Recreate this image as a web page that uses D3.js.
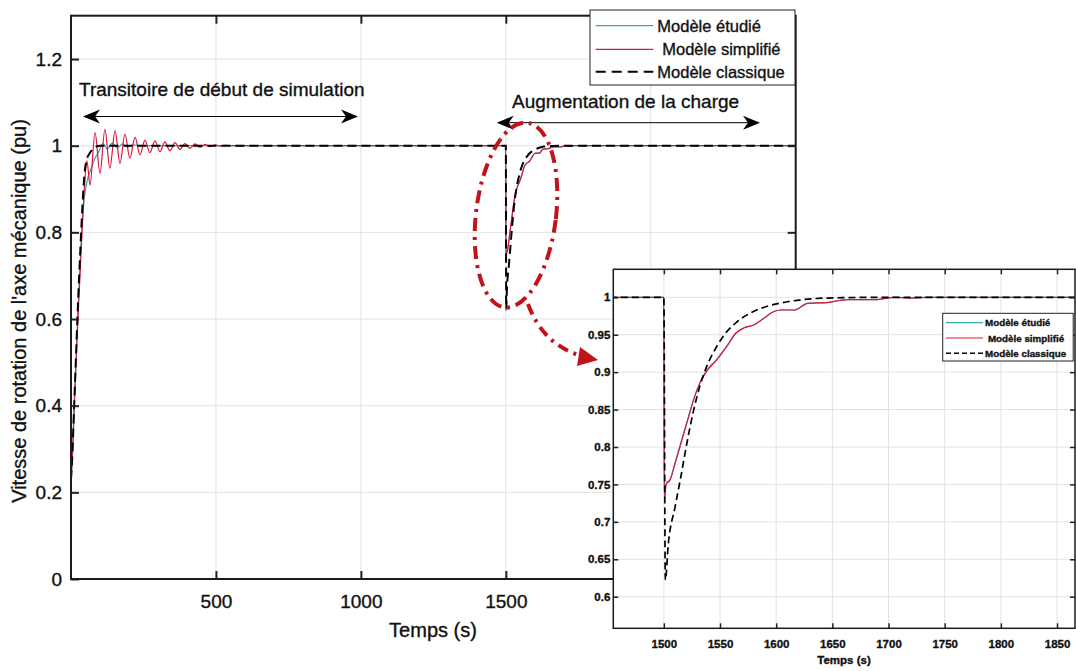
<!DOCTYPE html>
<html>
<head>
<meta charset="utf-8">
<script src="https://cdn.jsdelivr.net/npm/d3@7"></script>
<style>
  body { margin: 0; background: #fff; }
  text { font-family: "Liberation Sans", Arial, sans-serif; stroke: #111; stroke-width: 0.35px; }
</style>
</head>
<body>
<div id="chart"></div>
<script>
// data: [temps (s), vitesse (pu)]
var etudie = [[0,0.23],[3,0.26],[13,0.42],[23,0.6],[37,0.8],[46,0.88],[56,0.92],[68,0.945],[82,0.97],[95,0.985],
  [110,1.005],[125,0.992],[142,1.006],[160,0.995],[178,1.004],[195,0.997],[215,1.002],[240,1],[1500,1],
  [1500.4,0.73],[1502,0.751],[1505.6,0.757],[1510,0.779],[1516,0.81],[1522,0.841],[1526.5,0.864],[1532,0.886],
  [1538,0.902],[1547,0.917],[1556,0.935],[1564,0.952],[1571,0.959],[1580,0.963],[1589,0.972],[1598,0.981],
  [1604,0.983],[1616,0.983],[1628,0.992],[1645,0.993],[1663,0.997],[1690,0.997],[1705,1],[1720,0.999],[1735,1],[2500,1]];

var simplifie = [[0,0.23],[3,0.26],[12,0.42],[24,0.6],[38,0.8],[46,0.9],[55,0.965],[65.5,0.909],[83,1.030],
  [100,0.936],[117,1.038],[134,0.948],[152,1.034],[169,0.959],[186,1.027],[203,0.971],[221,1.019],[238,0.979],
  [255,1.013],[272,0.984],[290,1.011],[307,0.986],[324,1.009],[341,0.988],[359,1.007],[376,0.991],[393,1.005],
  [410,0.994],[428,1.004],[445,0.996],[462,1.003],[480,0.998],[497,1.002],[514,0.999],[531,1.001],[560,1],[1500,1],
  [1500.4,0.729],[1502,0.75],[1505.6,0.756],[1510,0.778],[1516,0.809],[1522,0.84],[1526.5,0.863],[1532,0.885],
  [1538,0.901],[1547,0.916],[1556,0.934],[1564,0.952],[1571,0.959],[1580,0.963],[1589,0.972],[1598,0.981],
  [1604,0.983],[1616,0.983],[1628,0.992],[1645,0.993],[1663,0.997],[1690,0.997],[1705,1],[1720,0.999],[1735,1],[2500,1]];

var classique = [[0,0.23],[2,0.25],[12,0.42],[22,0.6],[35,0.8],[40,0.867],[48,0.944],[54,0.967],[65,0.983],
  [77,0.993],[100,1],[1500,1],[1501.3,0.622],[1504,0.671],[1510,0.72],[1514.6,0.756],[1520.5,0.805],[1526.5,0.849],
  [1532,0.881],[1538,0.907],[1547,0.934],[1556,0.954],[1565,0.967],[1577,0.979],[1592,0.988],[1610,0.994],
  [1631,0.998],[1660,0.9995],[1700,1],[2500,1]];

var seriesNames = ["Modèle étudié", "Modèle simplifié", "Modèle classique"];
var mainXTicks = [500, 1000, 1500, 2000];
var mainYTicks = [0, 0.2, 0.4, 0.6, 0.8, 1, 1.2];
var zoomXTicks = [1500, 1550, 1600, 1650, 1700, 1750, 1800, 1850];
var zoomYTicks = [0.6, 0.65, 0.7, 0.75, 0.8, 0.85, 0.9, 0.95, 1];

var colEtudie = "#33a6b4", colSimple = "#dc1838", colRing = "#c0141c";

var svg = d3.select("#chart").append("svg")
  .attr("width", 1076).attr("height", 671);

var defs = svg.append("defs");

//scales of the main axes and of the zoomed axes
var x = d3.scaleLinear().domain([0, 2500]).range([71, 795.7]);
var y = d3.scaleLinear().domain([0, 1.3]).range([579, 15.7]);
var xi = d3.scaleLinear().domain([1455, 1866]).range([613.3, 1075]);
var yi = d3.scaleLinear().domain([0.5578, 1.0374]).range([628.3, 269.3]);

function drawPanel(g, sx, sy, xt, yt, opt) {
  var x0 = sx.range()[0], x1 = sx.range()[1], y0 = sy.range()[1], y1 = sy.range()[0];
  defs.append("clipPath").attr("id", opt.id)
    .append("rect").attr("x", x0).attr("y", y0).attr("width", x1 - x0).attr("height", y1 - y0);

  if (opt.bg) g.append("rect").attr("x", x0).attr("y", y0).attr("width", x1 - x0).attr("height", y1 - y0).attr("fill", "#fff");

  //grid
  g.append("g").selectAll("line").data(xt).enter().append("line")
    .attr("x1", function (d) { return sx(d); }).attr("x2", function (d) { return sx(d); })
    .attr("y1", y0).attr("y2", y1).attr("stroke", "#e2e2e2").attr("stroke-width", 1);
  g.append("g").selectAll("line").data(yt).enter().append("line")
    .attr("y1", function (d) { return sy(d); }).attr("y2", function (d) { return sy(d); })
    .attr("x1", x0).attr("x2", x1).attr("stroke", "#e2e2e2").attr("stroke-width", 1);

  //curves
  var line = d3.line().x(function (d) { return sx(d[0]); }).y(function (d) { return sy(d[1]); })
    .curve(d3.curveMonotoneX);
  var curves = g.append("g").attr("clip-path", "url(#" + opt.id + ")");
  curves.append("path").datum(etudie).attr("d", line).attr("fill", "none")
    .attr("stroke", colEtudie).attr("stroke-width", opt.lw);
  curves.append("path").datum(simplifie).attr("d", line).attr("fill", "none")
    .attr("stroke", colSimple).attr("stroke-width", opt.lw);
  curves.append("path").datum(classique).attr("d", line).attr("fill", "none")
    .attr("stroke", "#000").attr("stroke-width", opt.dw).attr("stroke-dasharray", opt.dash);

  //axes, ticks pointing inside
  var fmt = function (d) { return d3.format("~g")(d); };
  var ax = g.append("g").attr("transform", "translate(0," + y1 + ")")
    .call(d3.axisBottom(sx).tickValues(xt).tickSize(-opt.tick).tickPadding(opt.padX).tickFormat(fmt));
  var ay = g.append("g").attr("transform", "translate(" + x0 + ",0)")
    .call(d3.axisLeft(sy).tickValues(yt).tickSize(-opt.tick).tickPadding(opt.padY).tickFormat(fmt));
  var at = g.append("g").attr("transform", "translate(0," + y0 + ")")
    .call(d3.axisTop(sx).tickValues(xt).tickSize(-opt.tick).tickFormat(""));
  var ar = g.append("g").attr("transform", "translate(" + x1 + ",0)")
    .call(d3.axisRight(sy).tickValues(yt).tickSize(-opt.tick).tickFormat(""));
  [ax, ay, at, ar].forEach(function (a) {
    a.select(".domain").remove();
    a.selectAll(".tick line").attr("stroke", "#222").attr("stroke-width", opt.frame);
    a.selectAll("text").attr("fill", "#111").attr("font-size", opt.fs).attr("font-weight", opt.fw)
      .attr("font-family", "Liberation Sans, Arial, sans-serif");
  });

  g.append("rect").attr("x", x0).attr("y", y0).attr("width", x1 - x0).attr("height", y1 - y0)
    .attr("fill", "none").attr("stroke", "#1a1a1a").attr("stroke-width", opt.frame);
}

function drawLegend(g, bx, by, bw, bh, rows, lx0, lx1, tx, fs, fw, dash, lw, dw) {
  g.append("rect").attr("x", bx).attr("y", by).attr("width", bw).attr("height", bh)
    .attr("fill", "#fff").attr("stroke", "#222").attr("stroke-width", 1);
  var cols = [colEtudie, colSimple, "#000"];
  seriesNames.forEach(function (name, i) {
    g.append("line").attr("x1", lx0).attr("x2", lx1).attr("y1", rows[i]).attr("y2", rows[i])
      .attr("stroke", cols[i]).attr("stroke-width", i == 2 ? dw : lw)
      .attr("stroke-dasharray", i == 2 ? dash : null);
    g.append("text").attr("x", tx + (i == 1 ? fs * 0.3 : 0)).attr("y", rows[i]).attr("dy", "0.36em")
      .attr("font-size", fs).attr("font-weight", fw).attr("fill", "#111").text(name);
  });
}

//main axes
var main = svg.append("g");
drawPanel(main, x, y, mainXTicks, mainYTicks,
  { id: "clipMain", lw: 1.2, dw: 2, dash: "9,5", tick: 8, padX: 16, padY: 9, fs: 19, fw: "normal", frame: 2 });

main.append("text").attr("x", 433).attr("y", 637).attr("text-anchor", "middle")
  .attr("font-size", 20).attr("fill", "#111").text("Temps (s)");
main.append("text").attr("transform", "translate(26,311) rotate(-90)").attr("text-anchor", "middle")
  .attr("font-size", 20).attr("fill", "#111").text("Vitesse de rotation de l'axe mécanique (pu)");

//double arrows with their labels
function arrowHead(g, px, py, dir) {
  var p = [[0, 0], [-17, -7], [-12, 0], [-17, 7]].map(function (q) { return [px + dir * q[0], py + q[1]]; });
  g.append("path").attr("d", "M" + p.join("L") + "Z").attr("fill", "#000");
}
function doubleArrow(g, xa, xb, yy) {
  g.append("line").attr("x1", xa + 10).attr("x2", xb - 10).attr("y1", yy).attr("y2", yy)
    .attr("stroke", "#000").attr("stroke-width", 1);
  arrowHead(g, xa, yy, -1);
  arrowHead(g, xb, yy, 1);
}
var notes = svg.append("g");
doubleArrow(notes, 83, 358, 116.5);
notes.append("text").attr("x", 79).attr("y", 96).attr("font-size", 19).attr("fill", "#111")
  .text("Transitoire de début de simulation");
doubleArrow(notes, 496.7, 760, 122.7);
notes.append("text").attr("x", 512).attr("y", 107.5).attr("font-size", 19).attr("fill", "#111")
  .text("Augmentation de la charge");

drawLegend(svg.append("g"), 590, 10, 205, 75, [25.7, 49.3, 71.7], 595.7, 653.3, 657.3, 16.5, "normal", "10,6", 1.2, 2);

//red ring around the load step and its arrow to the zoom
svg.append("ellipse").attr("cx", 0).attr("cy", 0).attr("rx", 40).attr("ry", 93)
  .attr("transform", "translate(516,215) rotate(7)")
  .attr("fill", "none").attr("stroke", colRing).attr("stroke-width", 4)
  .attr("stroke-dasharray", "13,6,3,6");
svg.append("path").attr("d", "M528,304 Q543,345 582,356")
  .attr("fill", "none").attr("stroke", colRing).attr("stroke-width", 4)
  .attr("stroke-dasharray", "11,6,3,6");
svg.append("path").attr("d", "M580,347 L598,360 L577,366 Z").attr("fill", colRing);

//zoomed axes drawn over the main one
var inset = svg.append("g");
drawPanel(inset, xi, yi, zoomXTicks, zoomYTicks,
  { id: "clipZoom", bg: true, lw: 1.2, dw: 1.7, dash: "7,4", tick: 5, padX: 12, padY: 3, fs: 11.5, fw: "bold", frame: 1.5 });
inset.append("text").attr("x", 844).attr("y", 664).attr("text-anchor", "middle")
  .attr("font-size", 11.5).attr("font-weight", "bold").attr("fill", "#111").text("Temps (s)");
drawLegend(inset, 942.7, 313.3, 130.5, 47.7, [322.7, 338, 353.3], 946, 983, 985, 9.8, "bold", "5,3", 1.2, 1.5);
</script>
</body>
</html>
